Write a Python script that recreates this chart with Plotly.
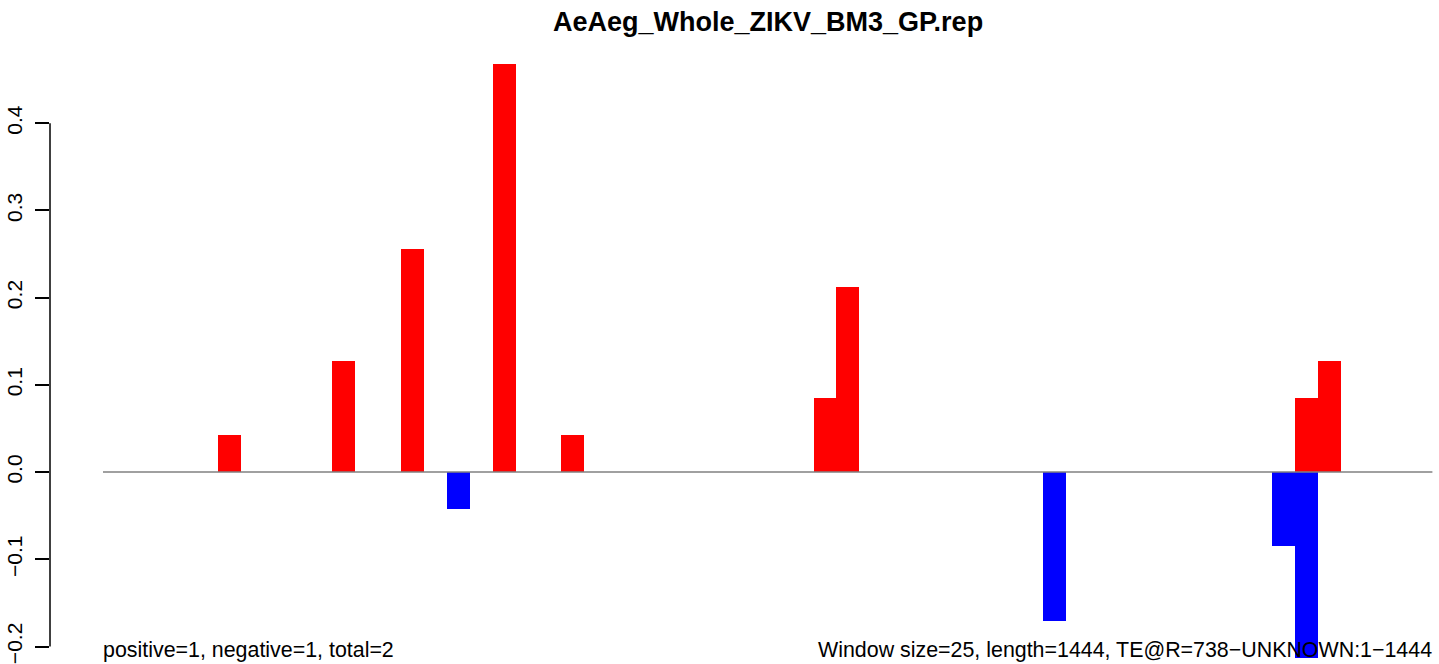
import plotly.graph_objects as go

# ---- data ----
window_size = 25
seq_length = 1444
title = "AeAeg_Whole_ZIKV_BM3_GP.rep"

pos_windows = [5, 10, 13, 17, 20, 31, 32, 52, 53]
pos_values = [0.0426, 0.1277, 0.2553, 0.4681, 0.0426, 0.0851, 0.2128, 0.0851, 0.1277]
neg_windows = [15, 41, 51, 52]
neg_values = [-0.0426, -0.1702, -0.0851, -0.2128]

y_ticks = [-0.2, -0.1, 0.0, 0.1, 0.2, 0.3, 0.4]
y_tick_labels = ["\u22120.2", "\u22120.1", "0.0", "0.1", "0.2", "0.3", "0.4"]

left_note = "positive=1, negative=1, total=2"
right_note = "Window size=25, length=1444, TE@R=738\u2212UNKNOWN:1\u22121444"

n_windows = 58
line_end = n_windows * window_size

FONT = "Liberation Sans, Arial, Helvetica, sans-serif"

fig = go.Figure()
fig.add_trace(go.Bar(
    x=[w * window_size + window_size / 2 for w in pos_windows],
    y=pos_values, width=window_size,
    marker=dict(color="#FF0000", line=dict(width=0)), showlegend=False,
))
fig.add_trace(go.Bar(
    x=[w * window_size + window_size / 2 for w in neg_windows],
    y=neg_values, width=window_size,
    marker=dict(color="#0000FF", line=dict(width=0)), showlegend=False,
))

# zero line
fig.add_shape(type="line", xref="x", yref="y", x0=0, x1=line_end, y0=0, y1=0,
              line=dict(color="#808080", width=1.5), layer="above")
# y axis line (only between extreme ticks, R style)
fig.add_shape(type="line", xref="paper", yref="y", x0=0, x1=0,
              y0=y_ticks[0], y1=y_ticks[-1], line=dict(color="black", width=1.5))

fig.add_annotation(text=title, xref="x", yref="paper", x=line_end / 2, y=1,
                   yanchor="bottom", yshift=-3, showarrow=False,
                   font=dict(family=FONT, size=27, color="black", weight="bold"))
fig.add_annotation(text=left_note, xref="x", yref="paper", x=0, y=0,
                   xanchor="left", yanchor="bottom", yshift=0, xshift=-2, showarrow=False,
                   font=dict(family=FONT, size=21.4, color="black"))
fig.add_annotation(text=right_note, xref="x", yref="paper", x=line_end, y=0,
                   xanchor="right", yanchor="bottom", yshift=0, xshift=2, showarrow=False,
                   font=dict(family=FONT, size=21.4, color="black"))

fig.update_layout(
    width=1439, height=664,
    margin=dict(l=50, r=0, t=36, b=0, autoexpand=False),
    plot_bgcolor="white", paper_bgcolor="white",
    barmode="overlay", bargap=0,
    xaxis=dict(range=[-57.8, 1457.2], visible=False, showgrid=False, zeroline=False,
               automargin=False),
    yaxis=dict(range=[-0.22, 0.5], tickvals=y_ticks, ticktext=y_tick_labels,
               tickangle=-90, ticks="outside", ticklen=14, tickwidth=1.5, tickcolor="black",
               ticklabelstandoff=5, ticklabeloverflow="allow", automargin=False,
               showline=False, showgrid=False, zeroline=False,
               tickfont=dict(family=FONT, size=21, color="black")),
)

fig.write_html("out.html", config={"displayModeBar": False},
               post_script="document.body.style.margin='0';document.body.style.overflow='hidden';")
